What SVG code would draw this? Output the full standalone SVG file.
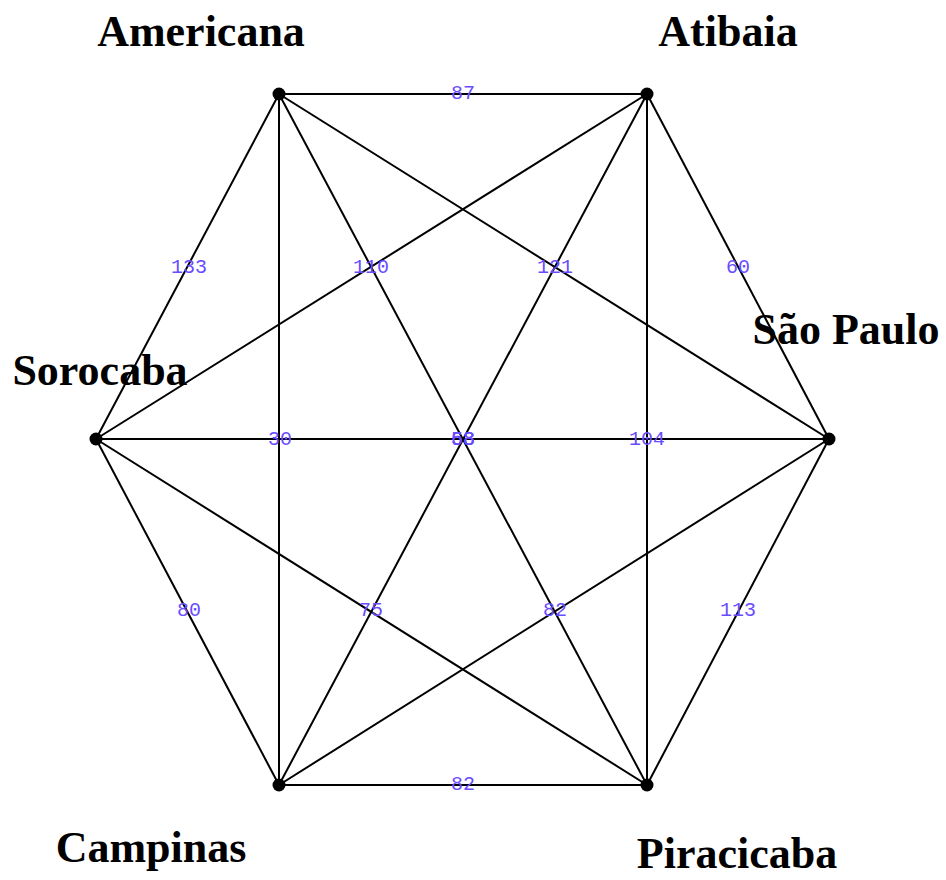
<svg xmlns="http://www.w3.org/2000/svg" width="946" height="880" viewBox="0 0 946 880">
<style>
.e{stroke:#000;stroke-width:2;fill:none}
.w{font-family:"Liberation Mono","DejaVu Sans Mono",monospace;font-size:20px;fill:#6a4cff;text-anchor:middle}
.n{font-family:"Liberation Serif","DejaVu Serif",serif;font-size:44px;font-weight:bold;fill:#000;text-anchor:middle}
.d{fill:#000}
</style>
<rect width="946" height="880" fill="#fff"/>
<g id="edges">
<line class="e" x1="279" y1="94" x2="647" y2="94"/>
<line class="e" x1="279" y1="94" x2="96" y2="439"/>
<line class="e" x1="279" y1="94" x2="829" y2="439"/>
<line class="e" x1="279" y1="94" x2="279" y2="785"/>
<line class="e" x1="279" y1="94" x2="647" y2="785"/>
<line class="e" x1="647" y1="94" x2="96" y2="439"/>
<line class="e" x1="647" y1="94" x2="829" y2="439"/>
<line class="e" x1="647" y1="94" x2="647" y2="785"/>
<line class="e" x1="647" y1="94" x2="279" y2="785"/>
<line class="e" x1="96" y1="439" x2="829" y2="439"/>
<line class="e" x1="96" y1="439" x2="279" y2="785"/>
<line class="e" x1="96" y1="439" x2="647" y2="785"/>
<line class="e" x1="829" y1="439" x2="279" y2="785"/>
<line class="e" x1="829" y1="439" x2="647" y2="785"/>
<line class="e" x1="279" y1="785" x2="647" y2="785"/>
</g>
<g id="weights">
<text class="w" x="463" y="99">87</text>
<text class="w" x="189" y="273">133</text>
<text class="w" x="371" y="273">110</text>
<text class="w" x="555" y="273">121</text>
<text class="w" x="738" y="273">60</text>
<text class="w" x="280" y="445">30</text>
<text class="w" x="463" y="445">68</text>
<text class="w" x="463" y="445">58</text>
<text class="w" x="463" y="445">53</text>
<text class="w" x="647" y="445">104</text>
<text class="w" x="189" y="616">80</text>
<text class="w" x="371" y="616">75</text>
<text class="w" x="555" y="616">82</text>
<text class="w" x="738" y="616">113</text>
<text class="w" x="463" y="790">82</text>
</g>
<g id="americana"><circle class="d" cx="279" cy="94" r="6.5"/><text class="n" x="201" y="46">Americana</text></g>
<g id="atibaia"><circle class="d" cx="647" cy="94" r="6.5"/><text class="n" x="728" y="46">Atibaia</text></g>
<g id="saopaulo"><circle class="d" cx="829" cy="439" r="6.5"/><text class="n" x="846" y="344">São Paulo</text></g>
<g id="piracicaba"><circle class="d" cx="647" cy="785" r="6.5"/><text class="n" x="737" y="868">Piracicaba</text></g>
<g id="campinas"><circle class="d" cx="279" cy="785" r="6.5"/><text class="n" x="151" y="862">Campinas</text></g>
<g id="sorocaba"><circle class="d" cx="96" cy="439" r="6.5"/><text class="n" x="100" y="385">Sorocaba</text></g>
</svg>
